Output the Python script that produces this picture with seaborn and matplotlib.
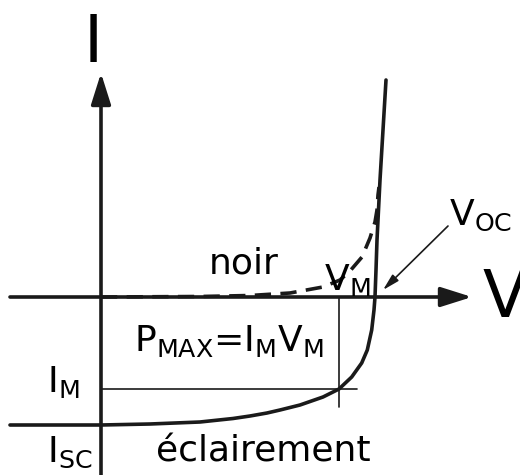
import matplotlib
matplotlib.use("Agg")
import matplotlib.pyplot as plt
from matplotlib.patches import ArrowStyle
import seaborn as sns

# ---- data (V in arbitrary units, I in arbitrary units; origin at axes crossing)
V_light = [-0.91, 0.0, 0.49, 0.99, 1.32, 1.49, 1.66, 1.79, 1.99, 2.22, 2.38, 2.507,
           2.607, 2.663, 2.707, 2.73, 2.74, 2.75, 2.76, 2.79, 2.82, 2.85]
I_light = [-1.28, -1.28, -1.27, -1.25, -1.215, -1.19, -1.16, -1.13, -1.08, -1.00,
           -0.92, -0.80, -0.66, -0.53, -0.33, -0.13, 0.0, 0.27, 0.57, 1.17, 1.67, 2.17]
V_dark = [0.0, 0.99, 1.49, 1.89, 2.22, 2.39, 2.49, 2.61, 2.69, 2.74, 2.76, 2.77, 2.78]
I_dark = [0.0, 0.005, 0.015, 0.04, 0.10, 0.17, 0.26, 0.40, 0.59, 0.75, 0.87, 1.02, 1.10]
V_M = 2.38
I_M = -0.92
V_OC = 2.74
I_SC = -1.28
labels = {"I": "I", "V": "V", "noir": "noir", "ecl": "éclairement",
          "pmax": r"P$_\mathregular{MAX}$=I$_\mathregular{M}$V$_\mathregular{M}$",
          "im": r"I$_\mathregular{M}$",
          "isc": r"I$_\mathregular{SC}$", "voc": r"V$_\mathregular{OC}$",
          "vm": r"V$_\mathregular{M}$"}

sns.set_theme(style="white")
plt.rcParams["font.family"] = ["DejaVu Sans"]
plt.rcParams["mathtext.fontset"] = "dejavusans"
plt.rcParams["text.color"] = "black"

fig = plt.figure(figsize=(5.2, 4.75), dpi=100)
ax = fig.add_axes([0, 0, 1, 1])
ax.set_xlim(-1.01, 4.19)
ax.set_ylim(-1.78, 2.97)
ax.axis("off")

# axes arrows
head = ArrowStyle("-|>", head_length=19, head_width=6.0)
ax.annotate("", xy=(3.71, 0), xytext=(-0.91, 0),
            arrowprops=dict(arrowstyle=head, mutation_scale=1, lw=2.6, color="k",
                            shrinkA=0, shrinkB=0))
ax.annotate("", xy=(0, 2.24), xytext=(0, -1.80),
            arrowprops=dict(arrowstyle=head, mutation_scale=1, lw=2.6, color="k",
                            shrinkA=0, shrinkB=0))

# curves
sns.lineplot(x=V_light, y=I_light, sort=False, estimator=None, ax=ax,
             color="k", lw=2.6)
sns.lineplot(x=V_dark, y=I_dark, sort=False, estimator=None, ax=ax,
             color="k", lw=2.6, linestyle=(0, (4.5, 2.6)))

# max power rectangle lines
ax.plot([0, V_M + 0.18], [I_M, I_M], color="k", lw=1.2)
ax.plot([V_M, V_M], [0, I_M - 0.18], color="k", lw=1.2)

# Voc arrow
ax.annotate("", xy=(V_OC + 0.08, 0.07), xytext=(3.47, 0.71),
            arrowprops=dict(arrowstyle=ArrowStyle("-|>", head_length=10, head_width=2.6),
                            mutation_scale=1, lw=1.2, color="k", shrinkA=0, shrinkB=0))

fs = 26
ax.text(-0.08, 2.35, labels["I"], fontsize=47, ha="center", va="baseline")
ax.text(3.81, -0.20, labels["V"], fontsize=47, ha="left", va="baseline")
ax.text(1.425, 0.24, labels["noir"], fontsize=fs, ha="center", va="baseline")
ax.text(1.625, -1.64, labels["ecl"], fontsize=fs, ha="center", va="baseline")
ax.text(1.28, -0.54, labels["pmax"], fontsize=fs, ha="center", va="baseline")
ax.text(-0.54, -0.95, labels["im"], fontsize=fs, ha="left", va="baseline")
ax.text(-0.54, -1.65, labels["isc"], fontsize=fs, ha="left", va="baseline")
ax.text(3.48, 0.72, labels["voc"], fontsize=fs, ha="left", va="baseline")
ax.text(2.23, 0.07, labels["vm"], fontsize=fs, ha="left", va="baseline")

fig.savefig("out.png", dpi=100)
